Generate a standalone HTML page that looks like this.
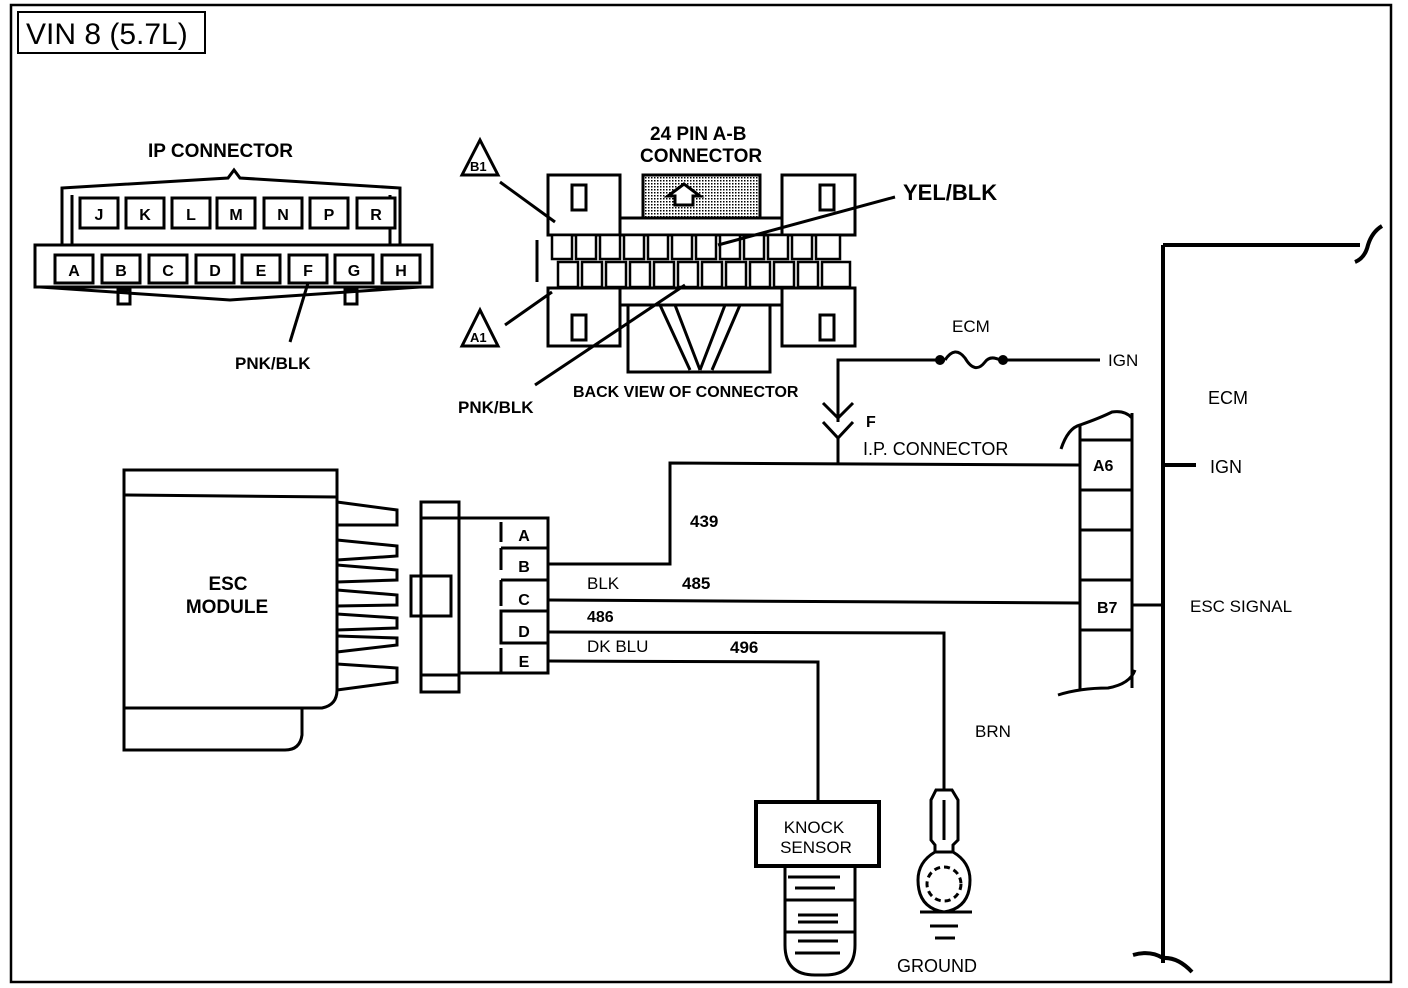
<!DOCTYPE html>
<html><head><meta charset="utf-8"><style>
html,body{margin:0;padding:0;background:#fff}
svg{display:block}
text{font-family:"Liberation Sans",sans-serif;font-weight:bold;fill:#000}
</style></head><body>
<svg width="1408" height="988" viewBox="0 0 1408 988" xmlns="http://www.w3.org/2000/svg">
<defs>
<pattern id="dots" width="3" height="3" patternUnits="userSpaceOnUse"><rect width="3" height="3" fill="#fff"/><rect width="1.5" height="1.5" fill="#000"/></pattern>
</defs>
<g fill="none" stroke="#000" stroke-width="3">
<rect x="11" y="5" width="1380" height="977" stroke-width="2.5"/>
<rect x="18" y="12" width="187" height="41" stroke-width="2"/>
</g>
<text x="26" y="44" font-size="30" style="font-weight:normal">VIN 8 (5.7L)</text>

<!-- IP connector -->
<text x="148" y="157" font-size="19">IP CONNECTOR</text>
<g fill="none" stroke="#000" stroke-width="3">
<path d="M62 188 L228 178 L234 170 L240 178 L400 188 L400 245 L62 245 Z"/>
<path d="M72 195 L72 245 M390 195 L390 245"/>
<path d="M35 245 L432 245 L432 287 L35 287 Z"/>
<path d="M40 287 L230 300 L420 287"/>
<rect x="118" y="290" width="12" height="14"/><rect x="345" y="290" width="12" height="14"/>
</g>
<g fill="#fff" stroke="#000" stroke-width="3">
<rect x="80" y="198" width="38" height="30"/><rect x="126" y="198" width="38" height="30"/><rect x="172" y="198" width="38" height="30"/><rect x="217" y="198" width="38" height="30"/><rect x="264" y="198" width="38" height="30"/><rect x="310" y="198" width="38" height="30"/><rect x="357" y="198" width="38" height="30"/>
<rect x="55" y="255" width="38" height="28"/><rect x="102" y="255" width="38" height="28"/><rect x="149" y="255" width="38" height="28"/><rect x="196" y="255" width="38" height="28"/><rect x="242" y="255" width="38" height="28"/><rect x="289" y="255" width="38" height="28"/><rect x="335" y="255" width="38" height="28"/><rect x="382" y="255" width="38" height="28"/>
</g>
<g font-size="16" text-anchor="middle">
<text x="99" y="220">J</text><text x="145" y="220">K</text><text x="191" y="220">L</text><text x="236" y="220">M</text><text x="283" y="220">N</text><text x="329" y="220">P</text><text x="376" y="220">R</text>
<text x="74" y="276">A</text><text x="121" y="276">B</text><text x="168" y="276">C</text><text x="215" y="276">D</text><text x="261" y="276">E</text><text x="308" y="276">F</text><text x="354" y="276">G</text><text x="401" y="276">H</text>
</g>
<line x1="308" y1="283" x2="290" y2="342" stroke="#000" stroke-width="3"/>
<text x="235" y="369" font-size="17">PNK/BLK</text>

<!-- 24 pin connector -->
<text x="650" y="140" font-size="19">24 PIN A-B</text>
<text x="640" y="162" font-size="19">CONNECTOR</text>
<g fill="none" stroke="#000" stroke-width="3">
<rect x="548" y="175" width="72" height="60"/><rect x="548" y="288" width="72" height="58"/>
<rect x="782" y="175" width="73" height="60"/><rect x="782" y="288" width="73" height="58"/>
<rect x="572" y="185" width="14" height="25"/><rect x="572" y="315" width="14" height="25"/>
<rect x="820" y="185" width="14" height="25"/><rect x="820" y="315" width="14" height="25"/>
<rect x="620" y="218" width="162" height="17"/>
<rect x="620" y="288" width="162" height="17"/>
<path d="M628 305 L628 372 L770 372 L770 305"/>
<path d="M660 305 L690 370 M675 305 L700 370 M740 305 L712 370 M725 305 L700 370"/>
<path d="M537 240 L537 282"/>
</g>
<rect x="643" y="175" width="117" height="43" fill="url(#dots)" stroke="#000" stroke-width="3"/>
<path d="M668 196 L684 184 L700 196 L693 196 L693 205 L675 205 L675 196 Z" fill="#fff" stroke="#000" stroke-width="3"/>
<g fill="#fff" stroke="#000" stroke-width="2.5">
<rect x="552" y="235" width="20" height="24"/><rect x="576" y="235" width="20" height="24"/><rect x="600" y="235" width="20" height="24"/><rect x="624" y="235" width="20" height="24"/><rect x="648" y="235" width="20" height="24"/><rect x="672" y="235" width="20" height="24"/><rect x="696" y="235" width="20" height="24"/><rect x="720" y="235" width="20" height="24"/><rect x="744" y="235" width="20" height="24"/><rect x="768" y="235" width="20" height="24"/><rect x="792" y="235" width="20" height="24"/><rect x="816" y="235" width="24" height="24"/>
<rect x="558" y="262" width="20" height="25"/><rect x="582" y="262" width="20" height="25"/><rect x="606" y="262" width="20" height="25"/><rect x="630" y="262" width="20" height="25"/><rect x="654" y="262" width="20" height="25"/><rect x="678" y="262" width="20" height="25"/><rect x="702" y="262" width="20" height="25"/><rect x="726" y="262" width="20" height="25"/><rect x="750" y="262" width="20" height="25"/><rect x="774" y="262" width="20" height="25"/><rect x="798" y="262" width="20" height="25"/><rect x="822" y="262" width="28" height="25"/>
</g>
<g stroke="#000" stroke-width="3" fill="none">
<line x1="500" y1="182" x2="555" y2="222"/>
<line x1="505" y1="325" x2="552" y2="292"/>
<line x1="535" y1="385" x2="685" y2="285"/>
<line x1="895" y1="197" x2="718" y2="245"/>
</g>
<g fill="#fff" stroke="#000" stroke-width="3">
<path d="M480 140 L462 175 L498 175 Z"/>
<path d="M480 310 L462 346 L498 346 Z"/>
</g>
<text x="470" y="171" font-size="13">B1</text>
<text x="470" y="342" font-size="13">A1</text>
<text x="903" y="200" font-size="22">YEL/BLK</text>
<text x="458" y="413" font-size="17">PNK/BLK</text>
<text x="573" y="397" font-size="16">BACK VIEW OF CONNECTOR</text>

<!-- ESC module -->
<g fill="none" stroke="#000" stroke-width="3">
<path d="M124 470 L337 470 L337 690 Q337 705 322 708 L124 708 Z"/>
<line x1="124" y1="495" x2="337" y2="497"/>
<path d="M124 705 L124 750 L285 750 Q300 750 302 735 L302 708"/>
<path d="M337 502 L397 510 L397 525 L337 525"/>
<path d="M337 540 L397 546 L397 556 L337 560"/>
<path d="M337 565 L397 570 L397 580 L337 582"/>
<path d="M337 590 L397 595 L397 605 L337 606"/>
<path d="M337 614 L397 618 L397 628 L337 630"/>
<path d="M337 636 L397 638 L397 645 L337 652"/>
<path d="M337 664 L397 668 L397 682 L337 690"/>
<rect x="421" y="502" width="38" height="190"/>
<line x1="421" y1="518" x2="459" y2="518"/><line x1="421" y1="675" x2="459" y2="675"/>
<rect x="411" y="576" width="40" height="40"/>
<path d="M459 518 L548 518 L548 673 L459 673"/>
<path d="M501 522 L501 542 M501 548 L548 548 M501 548 L501 570 M501 580 L548 580 M501 580 L501 606 M501 611 L548 611 L548 643 L501 643 Z M501 648 L501 672"/>
</g>
<g font-size="16" text-anchor="middle">
<text x="524" y="541">A</text><text x="524" y="572">B</text><text x="524" y="605">C</text><text x="524" y="637">D</text><text x="524" y="667">E</text>
</g>
<text x="228" y="590" font-size="19" text-anchor="middle">ESC</text>
<text x="227" y="613" font-size="19" text-anchor="middle">MODULE</text>

<!-- wires -->
<g fill="none" stroke="#000" stroke-width="3">
<path d="M548 564 L670 564 L670 463 L1080 465"/>
<path d="M548 600 L1080 603"/>
<path d="M548 632 L944 633 L944 790"/>
<path d="M548 661 L818 662 L818 800"/>
<path d="M838 422 L838 360 L945 360 M1000 360 L1100 360"/>
<path d="M945 360 Q955 345 965 358 Q975 375 985 362 Q990 355 1000 360"/>
<path d="M823 403 L838 418 L853 403 M823 422 L838 438 L853 422 M838 438 L838 463"/>
</g>
<circle cx="940" cy="360" r="5"/><circle cx="1003" cy="360" r="5"/>
<text x="952" y="332" font-size="17" style="font-weight:normal">ECM</text>
<text x="1108" y="366" font-size="17" style="font-weight:normal">IGN</text>
<text x="866" y="427" font-size="16">F</text>
<text x="863" y="455" font-size="18" style="font-weight:normal">I.P. CONNECTOR</text>
<text x="690" y="527" font-size="17">439</text>
<text x="587" y="589" font-size="17" style="font-weight:normal">BLK</text>
<text x="682" y="589" font-size="17">485</text>
<text x="587" y="622" font-size="16">486</text>
<text x="587" y="652" font-size="17" style="font-weight:normal">DK BLU</text>
<text x="730" y="653" font-size="17">496</text>
<text x="975" y="737" font-size="17" style="font-weight:normal">BRN</text>

<!-- ECM -->
<g fill="none" stroke="#000" stroke-width="4">
<path d="M1163 245 L1163 963 M1163 245 L1360 245"/>
<path d="M1163 465 L1196 465"/>
<path d="M1133 955 Q1150 950 1163 958 Q1178 957 1192 972"/>
<path d="M1355 262 Q1365 258 1368 245 Q1372 232 1382 226"/>
</g>
<g fill="none" stroke="#000" stroke-width="3">
<path d="M1061 449 Q1068 428 1080 425 Q1100 418 1112 412 Q1125 410 1132 418"/>
<path d="M1080 425 L1080 690 M1132 413 L1132 688"/>
<rect x="1080" y="440" width="52" height="50"/>
<line x1="1080" y1="530" x2="1132" y2="530"/>
<rect x="1080" y="580" width="52" height="50"/>
<path d="M1058 695 Q1080 688 1108 688 Q1130 684 1135 670"/>
<path d="M1132 605 L1163 605"/>
</g>
<text x="1093" y="471" font-size="16">A6</text>
<text x="1097" y="613" font-size="16">B7</text>
<text x="1208" y="404" font-size="18" style="font-weight:normal">ECM</text>
<text x="1210" y="473" font-size="18" style="font-weight:normal">IGN</text>
<text x="1190" y="612" font-size="17" style="font-weight:normal">ESC SIGNAL</text>

<!-- knock sensor -->
<g fill="none" stroke="#000" stroke-width="3">
<rect x="756" y="802" width="123" height="64" stroke-width="4"/>
<path d="M785 866 L785 945 Q785 975 815 975 L825 975 Q855 975 855 945 L855 866"/>
<path d="M785 900 L855 900 M785 932 L855 932"/>
<path d="M788 877 L840 877 M795 888 L835 888 M798 915 L838 915 M798 922 L838 922 M798 941 L838 941 M795 953 L840 953"/>
</g>
<text x="814" y="833" font-size="17" text-anchor="middle" style="font-weight:normal">KNOCK</text>
<text x="816" y="853" font-size="17" text-anchor="middle" style="font-weight:normal">SENSOR</text>

<!-- ground -->
<g fill="none" stroke="#000" stroke-width="3">
<path d="M936 790 L952 790 L958 800 L958 840 L953 845 L953 852 L935 852 L935 845 L931 840 L931 800 Z"/>
<line x1="944" y1="800" x2="944" y2="840"/>
<path d="M935 852 Q918 862 918 880 Q918 908 944 912 Q970 908 970 880 Q970 862 953 852"/>
<circle cx="944" cy="884" r="17" stroke-dasharray="6 4"/>
<line x1="920" y1="912" x2="972" y2="912"/>
<line x1="930" y1="926" x2="958" y2="926"/>
<line x1="935" y1="938" x2="955" y2="938"/>
</g>
<text x="897" y="972" font-size="18" style="font-weight:normal">GROUND</text>
</svg>
</body></html>
